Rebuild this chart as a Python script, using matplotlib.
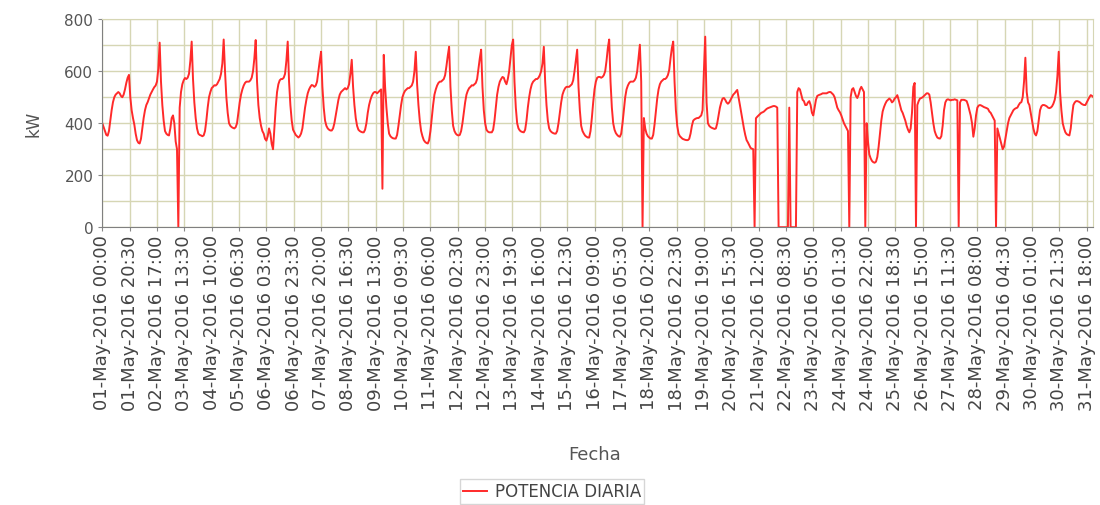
import matplotlib
matplotlib.use("Agg")
import matplotlib.pyplot as plt
from matplotlib.ticker import MultipleLocator
import pandas as pd

# etiquetas del eje x (cada 20.5 h)
tick_labels = ["01-May-2016 00:00", "01-May-2016 20:30", "02-May-2016 17:00",
               "03-May-2016 13:30", "04-May-2016 10:00", "05-May-2016 06:30",
               "06-May-2016 03:00", "06-May-2016 23:30", "07-May-2016 20:00",
               "08-May-2016 16:30", "09-May-2016 13:00", "10-May-2016 09:30",
               "11-May-2016 06:00", "12-May-2016 02:30", "12-May-2016 23:00",
               "13-May-2016 19:30", "14-May-2016 16:00", "15-May-2016 12:30",
               "16-May-2016 09:00", "17-May-2016 05:30", "18-May-2016 02:00",
               "18-May-2016 22:30", "19-May-2016 19:00", "20-May-2016 15:30",
               "21-May-2016 12:00", "22-May-2016 08:30", "23-May-2016 05:00",
               "24-May-2016 01:30", "24-May-2016 22:00", "25-May-2016 18:30",
               "26-May-2016 15:00", "27-May-2016 11:30", "28-May-2016 08:00",
               "29-May-2016 04:30", "30-May-2016 01:00", "30-May-2016 21:30",
               "31-May-2016 18:00"]

# potencia horaria (kW) por dia
d01 = [400, 385, 370, 355, 352, 370, 410, 450, 481, 500, 510, 515, 520, 515, 505, 500, 510, 530, 555, 575, 586, 500, 450, 420]
d02 = [395, 360, 335, 325, 322, 340, 380, 420, 450, 470, 481, 495, 510, 520, 530, 539, 545, 560, 610, 710, 560, 470, 410, 370]
d03 = [360, 355, 353, 380, 420, 430, 400, 330, 300, 0, 460, 520, 550, 565, 574, 570, 575, 590, 640, 714, 570, 480, 420, 380]
d04 = [360, 355, 353, 350, 353, 370, 410, 460, 500, 520, 535, 540, 546, 545, 550, 560, 570, 590, 630, 722, 600, 500, 440, 400]
d05 = [390, 385, 382, 380, 385, 400, 440, 480, 510, 530, 545, 555, 560, 560, 560, 565, 575, 600, 650, 720, 560, 470, 420, 390]
d06 = [370, 360, 340, 333, 350, 380, 360, 320, 300, 380, 460, 520, 550, 565, 570, 570, 575, 590, 640, 714, 560, 470, 410, 375]
d07 = [365, 355, 350, 345, 350, 360, 380, 420, 460, 490, 515, 530, 540, 547, 545, 540, 545, 560, 600, 640, 675, 540, 460, 410]
d08 = [390, 380, 375, 372, 372, 380, 400, 430, 460, 490, 510, 520, 525, 530, 535, 530, 535, 550, 590, 644, 540, 470, 420, 390]
d09 = [375, 370, 367, 365, 365, 375, 400, 440, 470, 490, 505, 515, 520, 520, 515, 520, 525, 530, 148, 663, 540, 460, 400, 360]
d10 = [350, 345, 342, 341, 341, 355, 390, 430, 470, 500, 515, 525, 530, 535, 535, 540, 545, 560, 600, 675, 550, 470, 410, 370]
d11 = [350, 335, 328, 324, 322, 335, 370, 420, 470, 510, 530, 545, 555, 560, 560, 565, 570, 585, 620, 660, 694, 540, 450, 390]
d12 = [370, 360, 355, 353, 355, 370, 400, 440, 480, 510, 525, 535, 540, 546, 545, 550, 555, 570, 610, 650, 683, 540, 450, 400]
d13 = [375, 368, 365, 365, 365, 375, 410, 460, 510, 540, 560, 570, 578, 575, 560, 550, 570, 600, 650, 700, 722, 560, 460, 400]
d14 = [380, 372, 368, 366, 365, 375, 410, 460, 500, 530, 550, 560, 565, 570, 570, 575, 585, 600, 630, 694, 560, 470, 410, 380]
d15 = [370, 365, 362, 360, 360, 370, 400, 440, 480, 510, 525, 535, 540, 540, 540, 545, 550, 565, 600, 640, 683, 540, 450, 390]
d16 = [370, 360, 352, 348, 345, 345, 370, 420, 480, 530, 560, 575, 578, 578, 575, 578, 585, 600, 640, 690, 722, 560, 460, 400]
d17 = [375, 362, 355, 350, 348, 360, 400, 450, 500, 530, 545, 555, 560, 560, 560, 565, 575, 600, 650, 702, 560, 0, 420, 380]
d18 = [360, 350, 345, 341, 341, 355, 395, 445, 495, 530, 550, 560, 565, 570, 570, 575, 585, 605, 650, 690, 714, 560, 450, 390]
d19 = [360, 350, 345, 340, 338, 336, 335, 335, 340, 360, 390, 410, 415, 418, 420, 420, 425, 430, 450, 600, 733, 480, 400, 390]
d20 = [385, 382, 380, 378, 380, 400, 430, 460, 480, 495, 497, 490, 480, 475, 480, 490, 500, 510, 515, 522, 528, 500, 470, 440]
d21 = [410, 380, 355, 335, 326, 315, 305, 302, 300, 0, 419, 425, 430, 435, 440, 442, 445, 450, 455, 458, 460, 462, 464, 466]
d22 = [466, 464, 460, 0, 0, 0, 0, 0, 0, 0, 0, 460, 0, 0, 0, 0, 0, 520, 535, 530, 510, 490, 485, 470]
d23 = [470, 480, 485, 470, 440, 430, 460, 490, 505, 508, 510, 512, 515, 515, 515, 515, 518, 520, 520, 515, 510, 500, 480, 460]
d24 = [450, 442, 430, 415, 400, 390, 380, 370, 0, 500, 530, 535, 520, 505, 497, 510, 530, 540, 530, 520, 0, 400, 330, 280]
d25 = [265, 255, 250, 248, 252, 270, 310, 360, 410, 445, 462, 475, 485, 490, 495, 490, 480, 485, 495, 500, 508, 490, 470, 450]
d26 = [440, 425, 410, 390, 375, 365, 380, 440, 540, 555, 0, 470, 485, 495, 497, 500, 505, 510, 515, 515, 510, 480, 440, 400]
d27 = [370, 355, 345, 342, 341, 350, 390, 450, 480, 490, 492, 490, 488, 490, 490, 492, 490, 488, 0, 480, 490, 490, 490, 488]
d28 = [485, 470, 450, 430, 400, 348, 380, 430, 460, 468, 470, 468, 465, 462, 460, 458, 455, 445, 440, 430, 420, 410, 0, 380]
d29 = [360, 340, 320, 300, 310, 340, 370, 400, 420, 430, 440, 450, 455, 458, 460, 470, 478, 481, 500, 560, 652, 520, 480, 470]
d30 = [440, 410, 380, 360, 353, 370, 410, 450, 465, 470, 470, 468, 465, 460, 458, 460, 465, 475, 490, 520, 580, 675, 520, 450]
d31 = [400, 380, 365, 358, 355, 353, 380, 430, 470, 480, 485, 485, 483, 480, 475, 472, 470, 470, 480, 490, 500, 508, 505, 500]

dias = [d01, d02, d03, d04, d05, d06, d07, d08, d09, d10, d11, d12, d13, d14, d15, d16,
        d17, d18, d19, d20, d21, d22, d23, d24, d25, d26, d27, d28, d29, d30, d31]
potencia = [v for d in dias for v in d]
fechas = pd.date_range("2016-05-01 00:00", periods=len(potencia), freq="h")

fig = plt.figure(figsize=(11, 5.06), dpi=100)
ax = fig.add_axes([0.093, 0.549, 0.901, 0.411])

grid_col = "#d6d6b4"
ax.plot(fechas, potencia, color="#ff2a2a", lw=1.4, label="POTENCIA DIARIA")

ticks = pd.to_datetime(tick_labels, format="%d-%b-%Y %H:%M")
ax.set_xticks(ticks)
ax.set_xticklabels(tick_labels, rotation=90, fontsize=13, color="#444444")
ax.set_xlim(fechas[0], fechas[-1])

ax.set_ylim(0, 800)
ax.set_yticks([0, 200, 400, 600, 800])
ax.yaxis.set_minor_locator(MultipleLocator(100))
ax.tick_params(axis="y", labelsize=11, labelcolor="#555555", color="#888888", length=3)
ax.tick_params(axis="y", which="minor", length=0)
ax.tick_params(axis="x", color="#888888", length=3, pad=2)

ax.grid(True, which="both", color=grid_col, lw=1)
ax.set_axisbelow(True)
for s in ["top", "right"]:
    ax.spines[s].set_color(grid_col)
for s in ["left", "bottom"]:
    ax.spines[s].set_color("#808080")

fig.text(0.030, 0.755, "kW", rotation=90, ha="center", va="center",
         fontsize=12, color="#555555")
fig.text(0.541, 0.101, "Fecha", ha="center", va="center", fontsize=13, color="#555555")

fig.legend(loc="center", bbox_to_anchor=(0.502, 0.027), fontsize=12,
           fancybox=False, edgecolor="#cccccc", handlelength=1.4,
           borderpad=0.2, handletextpad=0.5, labelcolor="#444444")

fig.savefig("out.png", dpi=100)
